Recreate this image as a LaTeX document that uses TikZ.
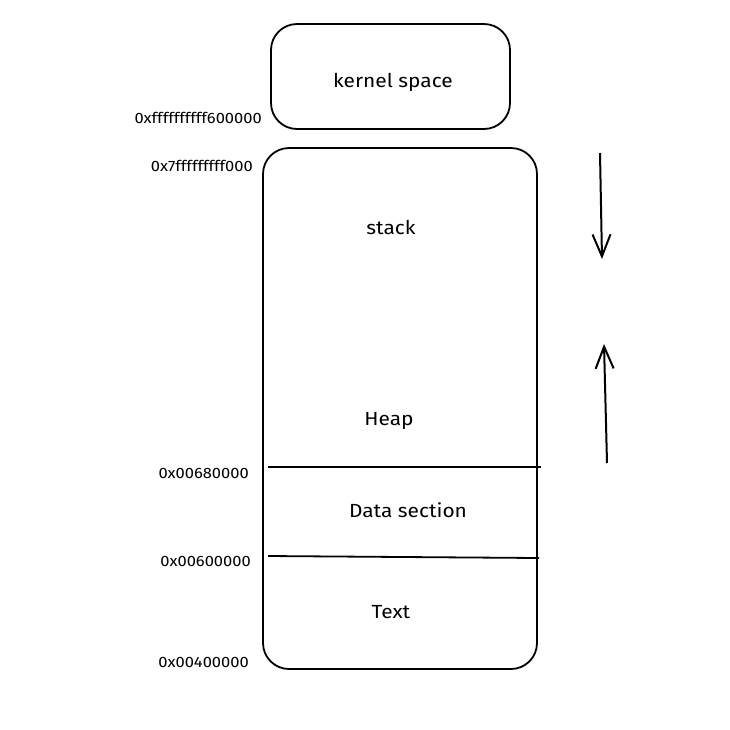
\documentclass[tikz,border=0pt]{standalone}
\usepackage{fontspec}
\setmainfont{Fira Sans}[FakeStretch=1.1]
\usetikzlibrary{arrows.meta, positioning}

\begin{document}
\begin{tikzpicture}[x=1pt, y=-1pt,
  seg/.style={draw, line width=1.8pt, rounded corners=26pt},
  lbl/.style={font=\fontsize{19}{22}\selectfont},
  addr/.style={anchor=east, inner sep=0pt, font=\fontsize{15}{18}\selectfont},
  growarrow/.style={line width=2pt, -{Straight Barb[length=22pt, width=18pt, line width=2pt]}}]
\useasboundingbox (0,0) rectangle (730,729);
\draw[seg] (271,24) rectangle (510,129);
\draw[seg] (263,148) rectangle (537,669);
\node[lbl] (kern) at (393,82) {kernel space};
\node[lbl] (stack) at (391,227) {stack};
\node[lbl] (heap) at (389,421) {Heap};
\node[lbl] (data) at (408,510) {Data section};
\node[lbl] (text) at (391,612) {Text};
\coordinate (d1) at (268,467);
\coordinate (d2) at (541,467);
\coordinate (t1) at (268,556);
\coordinate (t2) at (539,558);
\draw[line width=1.8pt] (d1) -- (d2);
\draw[line width=1.8pt] (t1) -- (t2);
\node[addr] (a1) at (262,118) {0xffffffffff600000};
\node[addr] (a2) at (253,166) {0x7fffffffff000};
\node[addr] (a3) at (249,473) {0x00680000};
\node[addr] (a4) at (251,561) {0x00600000};
\node[addr] (a5) at (249,662) {0x00400000};
\coordinate (s1) at (600,153);
\coordinate (s2) at (602,259);
\coordinate (h1) at (607,463);
\coordinate (h2) at (604,344);
\draw[growarrow] (s1) -- (s2);
\draw[growarrow] (h1) -- (h2);
\end{tikzpicture}
\end{document}
